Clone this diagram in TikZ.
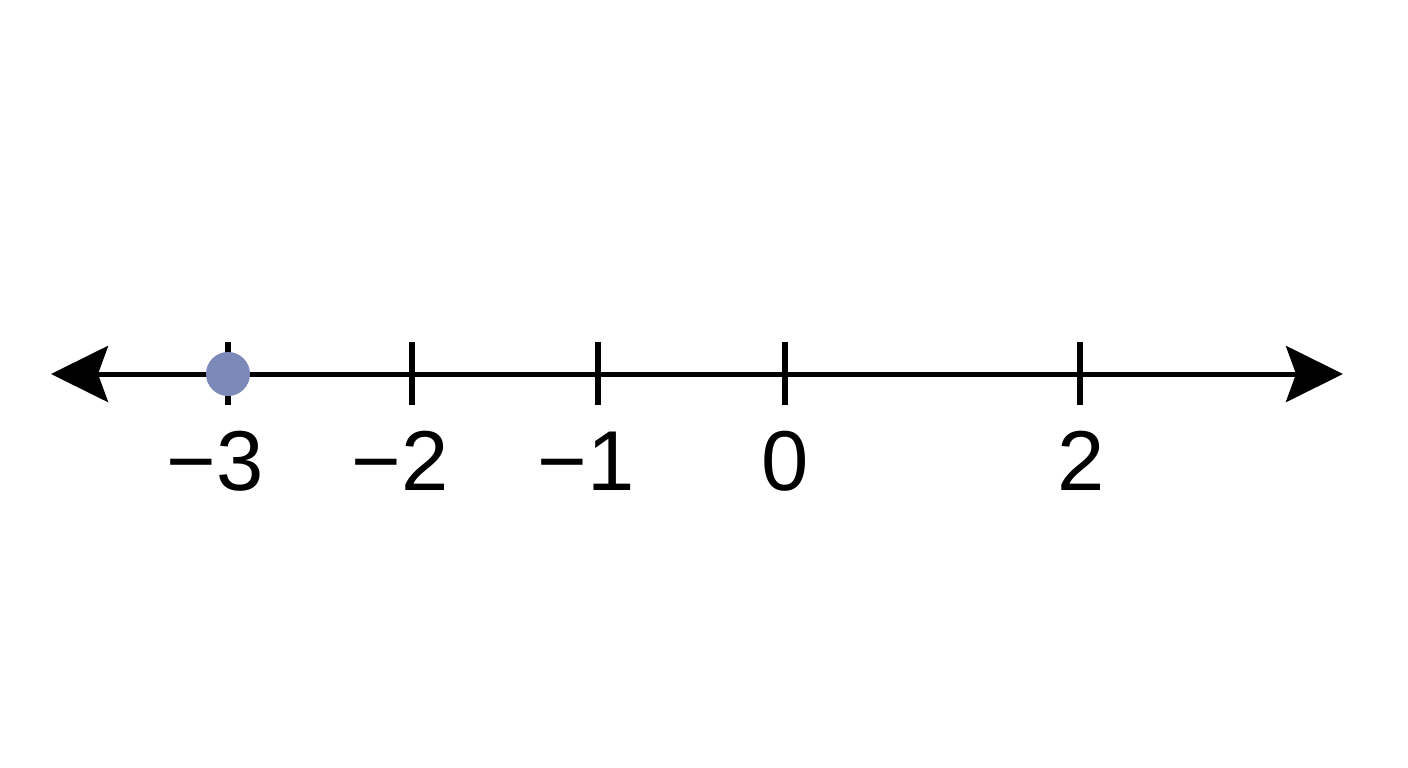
\documentclass[tikz,border=0pt]{standalone}
\usepackage{fontspec}
\setmainfont{Liberation Sans}
\usetikzlibrary{arrows.meta}
\definecolor{dotblue}{HTML}{7B88B8}
\tikzset{
  axis/.style={line width=5pt, -, {Stealth[length=57pt,width=56pt,inset=10pt]}-{Stealth[length=57pt,width=56pt,inset=10pt]}},
  tickmark/.style={line width=5.5pt},
  numlabel/.style={inner sep=0pt, font=\fontsize{85}{100}\selectfont, anchor=base},
  pointdot/.style={circle, fill=dotblue, minimum size=44pt, inner sep=0pt}
}
\begin{document}
\begin{tikzpicture}[x=1pt,y=-1pt]
\useasboundingbox (0,0) rectangle (1408,768);
\fill[white] (0,0) rectangle (1408,768);
\coordinate (L) at (51,374);
\coordinate (R) at (1343,374);
\draw[axis] (L) -- (R);
\foreach \n/\x in {m3/228, m2/412, m1/598, z/785, p2/1080}{
  \coordinate (t\n top) at (\x,342);
  \coordinate (t\n bot) at (\x,405);
  \draw[tickmark] (t\n top) -- (t\n bot);
}
\node[pointdot] (dot) at (228,374) {};
\node[numlabel] (lm3) at (215,490) {−3};
\node[numlabel] (lm2) at (400,490) {−2};
\node[numlabel] (lm1) at (586,490) {−1};
\node[numlabel] (lz) at (785,490) {0};
\node[numlabel] (lp2) at (1081,490) {2};
\end{tikzpicture}
\end{document}
